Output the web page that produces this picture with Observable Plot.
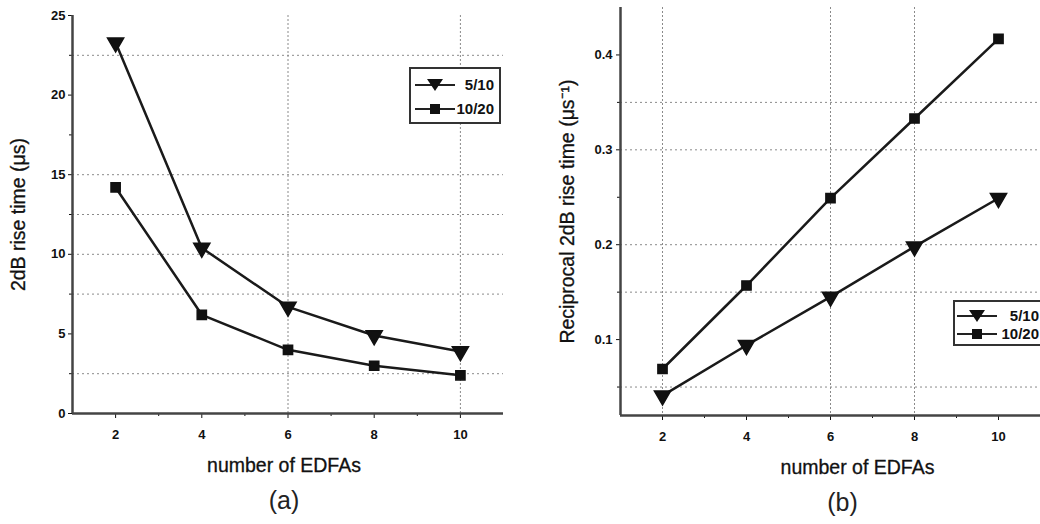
<!DOCTYPE html>
<html><head><meta charset="utf-8">
<script src="https://cdn.jsdelivr.net/npm/d3@7"></script>
<script src="https://cdn.jsdelivr.net/npm/@observablehq/plot@0.6"></script>
<style>
html,body{margin:0;padding:0;background:#fff}
body{width:1040px;height:524px;overflow:hidden;position:relative;font-family:"Liberation Sans",Arial,sans-serif;color:#111}
.panel{position:absolute;top:0}
.legend{position:absolute;border:2px solid #333;background:#fff;box-sizing:border-box}
.entry{position:absolute;left:0;right:0;height:18px}
.entry svg{position:absolute;top:1px}
.entry span{position:absolute;top:0;line-height:18px;font-weight:bold;font-size:15px;color:#111}
</style></head><body>
<div id="a" class="panel" style="left:0"></div>
<div id="b" class="panel" style="left:520px"></div>
<script>
// ---- data ----
const edfas = [2, 4, 6, 8, 10];
const seriesNames = ["5/10", "10/20"];
const rise510 = [23.3, 10.4, 6.7, 4.9, 3.9];
const rise1020 = [14.2, 6.2, 4.0, 3.0, 2.4];
const recip510 = [0.041, 0.094, 0.145, 0.198, 0.249];
const recip1020 = [0.069, 0.157, 0.249, 0.333, 0.417];

const xTicks = [2, 4, 6, 8, 10];
const xMinorTicks = [3, 5, 7, 9];
const leftYTicks = [0, 5, 10, 15, 20, 25];
const leftYMinor = [2.5, 7.5, 12.5, 17.5, 22.5];
const leftGridY = [2.5, 7.5, 10, 12.5, 15, 22.5];
const leftGridX = [6, 10];
const rightYTicks = [0.1, 0.2, 0.3, 0.4];
const rightYMinor = [0.05, 0.15, 0.25, 0.35];
const rightGridY = [0.05, 0.15, 0.2, 0.3, 0.35];
const rightGridX = [2, 6, 8];

function rows(a, b) {
  const out = [];
  edfas.forEach((x, i) => out.push({x, y: a[i], s: seriesNames[0]}));
  edfas.forEach((x, i) => out.push({x, y: b[i], s: seriesNames[1]}));
  return out;
}

function panel(cfg) {
  const data = rows(cfg.a, cfg.b);
  return Plot.plot({
    width: 520, height: 524,
    marginLeft: cfg.ml, marginRight: cfg.mr, marginTop: cfg.mt, marginBottom: cfg.mb,
    style: {fontFamily: '"Liberation Sans", Arial, sans-serif', color: "#111", background: "#fff", overflow: "visible"},
    x: {domain: [1, 11]},
    y: {domain: cfg.yDomain},
    marks: [
      Plot.ruleY(cfg.gridY, {stroke: "#8a8a8a", strokeWidth: 1, strokeDasharray: "2,3"}),
      Plot.ruleX(cfg.gridX, {stroke: "#8a8a8a", strokeWidth: 1, strokeDasharray: "2,2"}),
      Plot.axisX({ticks: xTicks, tickSize: 5, tickPadding: 11, fontSize: 13, fontWeight: "bold", label: null, tickFormat: d => d}),
      Plot.axisX({ticks: xMinorTicks, tickSize: 3, label: null, tickFormat: () => ""}),
      Plot.axisY({ticks: cfg.yTicks, tickSize: 4, tickPadding: cfg.tp, fontSize: 13, fontWeight: "bold", label: null, tickFormat: cfg.fmt}),
      Plot.axisY({ticks: cfg.yMinor, tickSize: 3, label: null, tickFormat: () => ""}),
      Plot.ruleX([1], {stroke: "#444", strokeWidth: 2.5}),
      Plot.ruleY([cfg.yDomain[0]], {stroke: "#444", strokeWidth: 2.5}),
      Plot.line(data, {x: "x", y: "y", z: "s", stroke: "#1a1a1a", strokeWidth: 2.5}),
      Plot.dot(data.filter(d => d.s === seriesNames[0]), {x: "x", y: "y", symbol: "triangle", rotate: 180, r: 6, fill: "#111", stroke: "#111"}),
      Plot.dot(data.filter(d => d.s === seriesNames[1]), {x: "x", y: "y", symbol: "square", r: 5.2, fill: "#111", stroke: "#111"}),
      Plot.text([cfg.yLabel], {text: d => d, frameAnchor: "left", textAnchor: "middle", lineAnchor: "middle", rotate: -90, dx: cfg.ylDx, fontSize: 19.5, fill: "#111", stroke: "#111", strokeWidth: 0.3}),
      Plot.text(["number of EDFAs"], {text: d => d, frameAnchor: "bottom", dy: 58, dx: cfg.xlDx, fontSize: 19.5, fill: "#111", stroke: "#111", strokeWidth: 0.3}),
      Plot.text([cfg.tag], {text: d => d, frameAnchor: "bottom", dy: 95, dx: cfg.tagDx, fontSize: 25, fill: "#222"})
    ]
  });
}

document.getElementById("a").append(panel({
  a: rise510, b: rise1020, yDomain: [0, 25], yTicks: leftYTicks, yMinor: leftYMinor,
  gridY: leftGridY, gridX: leftGridX, ml: 72, mr: 17, mt: 15, mb: 111, tp: 3,
  fmt: d => d, yLabel: "2dB rise time (μs)", ylDx: -54, xlDx: -4, tag: "(a)", tagDx: -4
}));
document.getElementById("b").append(panel({
  a: recip510, b: recip1020, yDomain: [0.02, 0.45], yTicks: rightYTicks, yMinor: rightYMinor,
  gridY: rightGridY, gridX: rightGridX, ml: 100, mr: 0, mt: 7, mb: 109, tp: 4,
  fmt: d => d.toFixed(1), yLabel: "Reciprocal 2dB rise time (μs⁻¹)", ylDx: -53, xlDx: 27, tag: "(b)", tagDx: 12
}));

function legend(left, top, width, height, rowsY, swX, textRight) {
  const box = document.createElement("div");
  box.className = "legend";
  Object.assign(box.style, {left: left + "px", top: top + "px", width: width + "px", height: height + "px"});
  seriesNames.forEach((name, i) => {
    const e = document.createElement("div");
    e.className = "entry";
    e.style.top = (rowsY[i] - 9) + "px";
    const marker = i === 0
      ? '<path d="M14,2 L30,2 L22,14 Z" fill="#111"/>'
      : '<rect x="17" y="3" width="10" height="10" fill="#111"/>';
    e.innerHTML = '<svg width="44" height="16" style="left:' + swX + 'px"><line x1="2" y1="8" x2="42" y2="8" stroke="#222" stroke-width="2"/>' + marker + '</svg>' +
      '<span style="right:' + textRight + 'px">' + name + '</span>';
    box.append(e);
  });
  document.body.append(box);
}
legend(409, 67, 92, 57, [16, 40], 2, 5);
legend(953, 300, 100, 46, [14, 32], 0, 12);
</script>
</body></html>
